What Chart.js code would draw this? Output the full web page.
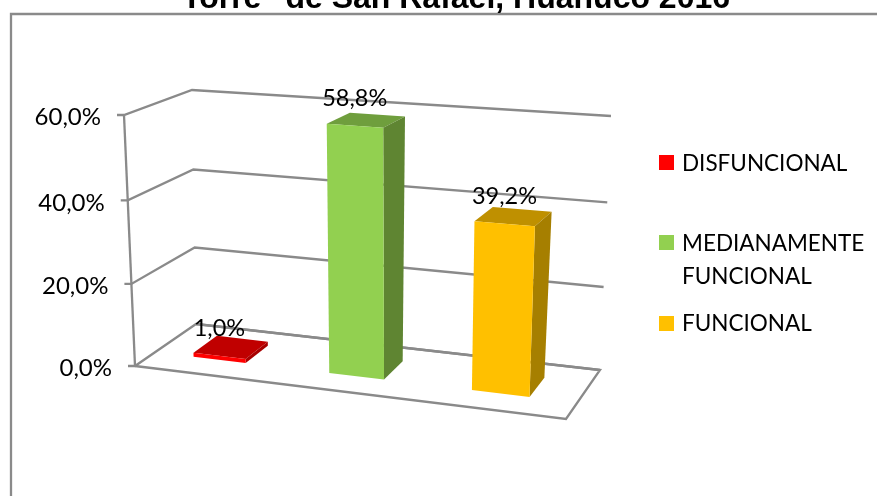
<!DOCTYPE html>
<html>
<head>
<meta charset="utf-8">
<style>
  html, body { margin: 0; padding: 0; background: #fff; overflow: hidden; }
  #chart { display: block; }
</style>
<script src="https://cdn.jsdelivr.net/npm/chart.js@4"></script>
</head>
<body>
<canvas id="chart" width="877" height="496"></canvas>
<script>
const titleText = 'Torre" de San Rafael, Huánuco 2016';
const categories = ["Nivel"];
const seriesNames = ["DISFUNCIONAL", "MEDIANAMENTE FUNCIONAL", "FUNCIONAL"];
const seriesValues = [1.0, 58.8, 39.2];
const yTicks = [0, 20, 40, 60];

const frontColors = ["#FF0000", "#92D050", "#FFC000"];
const topColors = ["#C00000", "#6F9E3D", "#BF9000"];
const sideColors = ["#A80000", "#5F8532", "#A67F00"];
const gridColor = "#8A8A8A";
const textFont = "Lato";

// Corners of the 3D box (floor and top), as they sit on the page
const floorQuad = { bl: [196, 324], br: [600, 370], fr: [566, 419], fl: [135, 366] };
const topQuad = { bl: [192, 90], br: [611, 116], fr: [570, 147], fl: [124, 115] };
const barDepth = [0.28, 0.68];

// Projective map of the unit square onto a quad
function quadMap(q, u, d) {
  const sx = q.bl[0] - q.br[0] + q.fr[0] - q.fl[0];
  const sy = q.bl[1] - q.br[1] + q.fr[1] - q.fl[1];
  const dx1 = q.br[0] - q.fr[0], dy1 = q.br[1] - q.fr[1];
  const dx2 = q.fl[0] - q.fr[0], dy2 = q.fl[1] - q.fr[1];
  const det = dx1 * dy2 - dx2 * dy1;
  const g = (sx * dy2 - dx2 * sy) / det;
  const h = (dx1 * sy - sx * dy1) / det;
  const w = 1 + g * u + h * d;
  return [
    (q.br[0] - q.bl[0] + g * q.br[0]) * u / w + (q.fl[0] - q.bl[0] + h * q.fl[0]) * d / w + q.bl[0] / w,
    (q.br[1] - q.bl[1] + g * q.br[1]) * u / w + (q.fl[1] - q.bl[1] + h * q.fl[1]) * d / w + q.bl[1] / w,
  ];
}

// u across the categories, d back to front, v is the share of the y scale
function project(u, d, v) {
  const vv = v / (1 + 0.03 * (1 - v));
  const a = quadMap(floorQuad, u, d);
  const b = quadMap(topQuad, u, d);
  return [a[0] + (b[0] - a[0]) * vv, a[1] + (b[1] - a[1]) * vv];
}

// Same as project, but the bars stand straighter than the walls
function projectBar(u, d, v) {
  const p = project(u, d, v);
  return [p[0] - 2 + 6 * v, p[1]];
}

function poly(ctx, pts, fill) {
  ctx.beginPath();
  pts.forEach((p, i) => (i ? ctx.lineTo(p[0], p[1]) : ctx.moveTo(p[0], p[1])));
  ctx.closePath();
  ctx.fillStyle = fill;
  ctx.fill();
}

function polyline(ctx, pts) {
  ctx.beginPath();
  pts.forEach((p, i) => (i ? ctx.lineTo(p[0], p[1]) : ctx.moveTo(p[0], p[1])));
  ctx.stroke();
}

function formatPct(v) {
  return v.toFixed(1).replace(".", ",") + "%";
}

const box3d = {
  id: "box3d",
  // Draws the walls and floor, then the bars, instead of the flat rectangles
  beforeDatasetsDraw(chart) {
    const ctx = chart.ctx;
    const y = chart.scales.y;
    const area = chart.chartArea;
    const share = (val) => (y.bottom - y.getPixelForValue(val)) / (y.bottom - y.top);

    ctx.save();
    // outer frame, runs off the page on the right and at the bottom
    ctx.strokeStyle = gridColor;
    ctx.lineWidth = 2.3;
    polyline(ctx, [[11, 520], [11, 14], [900, 14]]);

    // walls and floor
    yTicks.forEach((t) => {
      const v = share(t);
      const front = project(0, 1, v);
      polyline(ctx, [[front[0] - 7, front[1]], front, project(0, 0, v), project(1, 0, v)]);
    });
    polyline(ctx, [project(0, 0, 0), project(1, 0, 0), project(1, 1, 0), project(0, 1, 0)]);
    polyline(ctx, [project(0, 1, 0), project(0, 1, 1)]);

    // bars, through the library's own bar elements
    seriesValues.forEach((val, i) => {
      const el = chart.getDatasetMeta(i).data[0];
      const u0 = (el.x - el.width / 2 - area.left) / area.width;
      const u1 = (el.x + el.width / 2 - area.left) / area.width;
      const v = share(val);
      const [d0, d1] = barDepth;
      poly(ctx, [projectBar(u0, d0, v), projectBar(u1, d0, v), projectBar(u1, d1, v), projectBar(u0, d1, v)], topColors[i]);
      poly(ctx, [projectBar(u1, d0, 0), projectBar(u1, d0, v), projectBar(u1, d1, v), projectBar(u1, d1, 0)], sideColors[i]);
      poly(ctx, [projectBar(u0, d1, 0), projectBar(u1, d1, 0), projectBar(u1, d1, v), projectBar(u0, d1, v)], frontColors[i]);
    });

    // tick labels and data labels
    ctx.fillStyle = "#000";
    ctx.font = "24px " + textFont;
    ctx.textBaseline = "middle";
    ctx.textAlign = "right";
    y.ticks.forEach((t) => {
      const p = project(0, 1, share(t.value));
      ctx.fillText(t.label, p[0] - 23, p[1] + 2.5);
    });
    ctx.font = "23.5px " + textFont;
    ctx.textAlign = "center";
    seriesValues.forEach((val, i) => {
      const el = chart.getDatasetMeta(i).data[0];
      const p = projectBar((el.x - area.left) / area.width, barDepth[1], share(val));
      ctx.fillText(formatPct(val), p[0], p[1] - 27);
    });

    // title, cut by the top of the page
    ctx.font = "bold 32px 'Liberation Sans'";
    ctx.textBaseline = "alphabetic";
    ctx.fillText(titleText, 456, 8);

    // legend
    ctx.font = "22.5px " + textFont;
    ctx.textBaseline = "middle";
    ctx.textAlign = "left";
    const legendRows = [
      { swatch: 155, lines: [[seriesNames[0], 164]] },
      { swatch: 235, lines: [["MEDIANAMENTE", 244], ["FUNCIONAL", 277]] },
      { swatch: 316, lines: [[seriesNames[2], 324]] },
    ];
    legendRows.forEach((row, i) => {
      ctx.fillStyle = frontColors[i];
      ctx.fillRect(659, row.swatch, 15, 15);
      ctx.fillStyle = "#000";
      row.lines.forEach((l) => ctx.fillText(l[0], 682, l[1]));
    });
    ctx.restore();
    return false;
  },
};

new Chart(document.getElementById("chart"), {
  type: "bar",
  data: {
    labels: categories,
    datasets: seriesNames.map((name, i) => ({
      label: name,
      data: [seriesValues[i]],
      backgroundColor: frontColors[i],
      barPercentage: 0.39,
      categoryPercentage: 1,
    })),
  },
  plugins: [box3d],
  options: {
    responsive: false,
    animation: false,
    layout: { padding: { left: 196, right: 277, top: 115, bottom: 130 } },
    plugins: {
      legend: { display: false },
      title: { display: false },
      tooltip: { enabled: false },
    },
    scales: {
      x: { display: false },
      y: {
        display: false,
        min: 0,
        max: 60,
        ticks: { stepSize: 20, callback: (v) => formatPct(v) },
      },
    },
  },
});
</script>
</body>
</html>
